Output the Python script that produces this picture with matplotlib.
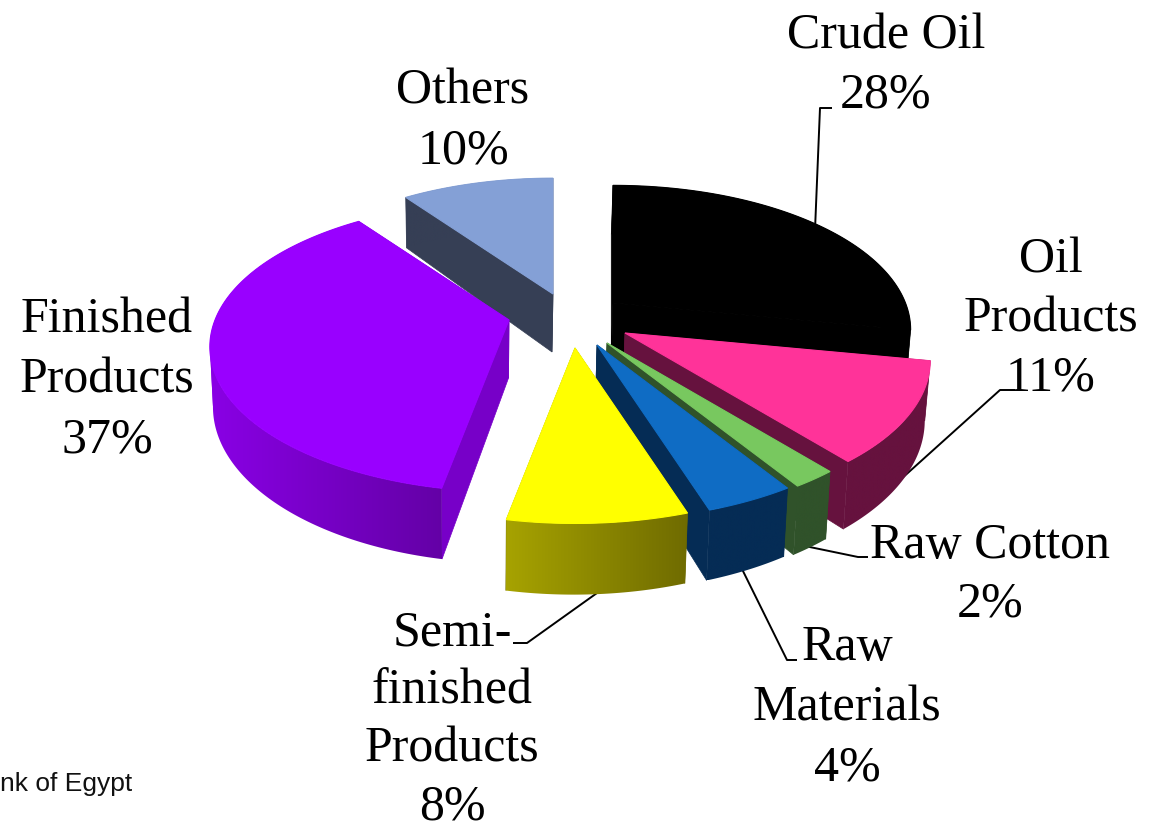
import numpy as np
import matplotlib
matplotlib.use("Agg")
import matplotlib.pyplot as plt
from matplotlib.colors import to_rgb
from matplotlib.patches import Polygon

# shares in percent, clockwise from the top
labels = ["Crude Oil", "Oil\nProducts", "Raw Cotton", "Raw\nMaterials",
          "Semi-\nfinished\nProducts", "Finished\nProducts", "Others"]
shares = [28, 11, 2, 4, 8, 37, 10]

top_colors = ["#000000", "#ff3399", "#78c85f", "#0f6cc4", "#ffff00", "#9900ff", "#84a0d6"]
wall_left = ["#000000", "#66123e", "#30522a", "#052c55", "#a8a400", "#8a00e6", "#363f55"]
wall_right = ["#000000", "#66123e", "#30522a", "#052c55", "#6e6a00", "#6300a5", "#363f55"]
wall_radial = ["#000000", "#66123e", "#30522a", "#052c55", "#6e6a00", "#7700c8", "#363f55"]

# exploded slice tips on the page, in pixels, and how far each slice is shrunk
tip_x = [613, 625, 607, 597, 575, 509, 553]
tip_y = [303, 333, 343, 345, 348, 320, 294]
scale = [0.975, 1.0, 1.0, 1.0, 1.0, 0.98, 0.96]
draw_order = [6, 0, 5, 1, 2, 3, 4]

# label anchors: centre x, first line y, line gap
label_x = [886, 1051, 990, 847, 452, 107, 463]
label_y = [36, 260, 546, 648, 633, 320, 91]
line_gap = [59, 59, 58, 60, 58, 60, 60]

# leader lines
leaders = [
    ([815, 820, 832], [230, 108, 108]),
    ([880, 1000, 1015], [498, 390, 390]),
    ([800, 858, 868], [545, 557, 557]),
    ([740, 787, 797], [565, 660, 660]),
    ([604, 527, 513], [588, 643, 643]),
]

RX = 300
RY = 143
PERSP = 0.185
DEPTH = 58
TAPER = 0.012
VANISH_X = 470


def project(theta, tx, ty, sc):
    x = np.sin(theta)
    y = np.cos(theta)
    s = 1 + PERSP * y
    return tx + sc * RX * x / s, ty - sc * RY * y / s, DEPTH / s


def lower(x):
    # bottom edges lean a little toward the vanishing point
    return x - (x - VANISH_X) * TAPER


fig = plt.figure(figsize=(11.49, 8.22), dpi=100)
ax = fig.add_axes([0, 0, 1, 1])
ax.axis("off")

for xs, ys in leaders:
    ax.plot(xs, ys, color="black", lw=1.4, solid_capstyle="butt", zorder=1)

edges = np.radians(np.cumsum([0] + shares) * 3.6)

z = 2
for i in draw_order:
    th = np.linspace(edges[i], edges[i + 1], 160)
    px, py, d = project(th, tip_x[i], tip_y[i], scale[i])
    tx, ty = tip_x[i], tip_y[i]

    # the two straight walls
    for k in (0, -1):
        ax.fill([tx, px[k], lower(px[k]), lower(tx)],
                [ty, py[k], py[k] + d[k], ty + DEPTH],
                color=wall_radial[i], lw=0.5, zorder=z)

    # curved wall, an image gradient clipped to the outline; split where the
    # arc turns back so the clip outline never folds over itself
    c0 = np.array(to_rgb(wall_left[i]))
    c1 = np.array(to_rgb(wall_right[i]))
    grad = np.linspace(c0, c1, 256)[np.newaxis, :, :]
    cuts = sorted({0, int(np.argmin(px)), int(np.argmax(px)), len(th) - 1})
    for a, b in zip(cuts[:-1], cuts[1:]):
        qx = px[a:b + 1]
        qy = py[a:b + 1]
        qd = d[a:b + 1]
        wx = np.r_[qx, lower(qx)[::-1]]
        wy = np.r_[qy, (qy + qd)[::-1]]
        outline = Polygon(np.c_[wx, wy], closed=True, transform=ax.transData,
                          facecolor="none", edgecolor="none")
        ax.add_patch(outline)
        im = ax.imshow(grad, extent=[px.min() - 4, px.max() + 4, wy.max(), wy.min()],
                       aspect="auto", zorder=z + 0.1)
        im.set_clip_path(outline)

    ax.fill(np.r_[tx, px], np.r_[ty, py], color=top_colors[i], lw=0.8, zorder=z + 0.2)
    z += 1

ax.set_xlim(0, 1149)
ax.set_ylim(822, 0)

for i in range(len(labels)):
    lines = labels[i].split("\n") + [f"{shares[i]}%"]
    for n, line in enumerate(lines):
        ax.text(label_x[i], label_y[i] + n * line_gap[i], line, ha="center", va="center",
                family="Liberation Serif", fontsize=36, color="black", zorder=20)

ax.text(0, 784, "nk of Egypt", ha="left", va="center",
        family="Liberation Sans", fontsize=19, color="#111111", zorder=20)

fig.savefig("out.png", dpi=100, facecolor="white")
